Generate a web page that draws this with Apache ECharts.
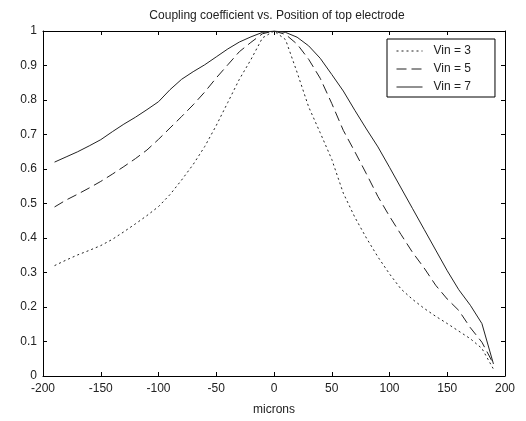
<!DOCTYPE html>
<html>
<head>
<meta charset="utf-8">
<script src="https://cdn.jsdelivr.net/npm/echarts@6/dist/echarts.min.js"></script>
<style>
  html, body { margin: 0; padding: 0; background: #fff; }
  #chart { width: 526px; height: 421px; }
</style>
</head>
<body>
<div id="chart"></div>
<script>
// position of top electrode, microns
const positions = [-190,-180,-170,-160,-150,-140,-130,-120,-110,-100,-90,-80,-70,-60,-50,-40,-30,-20,-10,0,
  10,20,30,40,50,60,70,80,90,100,110,120,130,140,150,160,170,180,190];

const vin3 = [0.320,0.336,0.351,0.364,0.378,0.396,0.418,0.441,0.465,0.491,0.526,0.568,0.613,0.665,0.726,0.793,0.860,0.917,0.980,1.000,
  0.975,0.880,0.780,0.705,0.628,0.530,0.460,0.400,0.345,0.296,0.252,0.222,0.196,0.173,0.152,0.130,0.108,0.080,0.020];

const vin5 = [0.490,0.510,0.527,0.545,0.564,0.585,0.607,0.630,0.655,0.686,0.719,0.752,0.786,0.823,0.864,0.902,0.940,0.967,0.992,1.000,
  0.990,0.962,0.918,0.863,0.790,0.712,0.650,0.586,0.520,0.463,0.410,0.358,0.313,0.263,0.223,0.190,0.140,0.098,0.035];

const vin7 = [0.620,0.635,0.650,0.667,0.685,0.708,0.730,0.750,0.772,0.795,0.830,0.860,0.882,0.902,0.925,0.948,0.968,0.983,0.996,1.000,
  0.996,0.982,0.957,0.921,0.874,0.826,0.770,0.716,0.664,0.605,0.545,0.485,0.425,0.365,0.305,0.250,0.205,0.152,0.035];

const seriesNames = ['Vin = 3', 'Vin = 5', 'Vin = 7'];

const font = 'Liberation Sans, Arial, Helvetica, sans-serif';
const ink = '#222';

function pairs(ys) {
  return positions.map((x, i) => [x, ys[i]]);
}

function lineSeries(name, ys, dash) {
  return {
    name: name,
    type: 'line',
    data: pairs(ys),
    symbol: 'none',
    symbolSize: 0,
    showSymbol: false,
    animation: false,
    itemStyle: { color: ink },
    lineStyle: { color: ink, width: 1, type: dash }
  };
}

const frameX = {
  type: 'value', min: -200, max: 200, interval: 50,
  axisLine: { show: true, onZero: false, lineStyle: { color: '#000', width: 1 } },
  axisTick: { show: true, inside: true, length: 4, lineStyle: { color: '#000' } },
  splitLine: { show: false }
};
const frameY = {
  type: 'value', min: 0, max: 1, interval: 0.1,
  axisLine: { show: true, onZero: false, lineStyle: { color: '#000', width: 1 } },
  axisTick: { show: true, inside: true, length: 4, lineStyle: { color: '#000' } },
  splitLine: { show: false }
};

const chart = echarts.init(document.getElementById('chart'));
chart.setOption({
  backgroundColor: '#fff',
  animation: false,
  title: {
    text: 'Coupling coefficient vs. Position of top electrode',
    left: 272, textAlign: 'center', top: 5,
    textStyle: { fontFamily: font, fontSize: 12, fontWeight: 'normal', color: ink }
  },
  legend: {
    data: seriesNames,
    orient: 'vertical',
    left: 387, top: 39,
    padding: [6, 24, 4, 9],
    itemGap: 6,
    itemWidth: 26, itemHeight: 14,
    borderColor: '#000', borderWidth: 1,
    backgroundColor: '#fff',
    itemStyle: { opacity: 0 },
    lineStyle: { width: 1 },
    textStyle: { fontFamily: font, fontSize: 12, color: ink, padding: [0, 0, 0, 6] }
  },
  grid: { left: 43, right: 21, top: 31, bottom: 45 },
  xAxis: [
    Object.assign({}, frameX, {
      position: 'bottom',
      name: 'microns', nameLocation: 'middle', nameGap: 28,
      nameTextStyle: { fontFamily: font, fontSize: 12, color: ink },
      axisLabel: { fontFamily: font, fontSize: 12, color: ink, margin: 7 }
    }),
    Object.assign({}, frameX, { position: 'top', axisLabel: { show: false } })
  ],
  yAxis: [
    Object.assign({}, frameY, {
      position: 'left',
      axisLabel: { fontFamily: font, fontSize: 12, color: ink, margin: 6 }
    }),
    Object.assign({}, frameY, { position: 'right', axisLabel: { show: false } })
  ],
  series: [
    lineSeries(seriesNames[0], vin3, [2, 3]),
    lineSeries(seriesNames[1], vin5, [10, 5]),
    lineSeries(seriesNames[2], vin7, 'solid')
  ]
});
</script>
</body>
</html>
